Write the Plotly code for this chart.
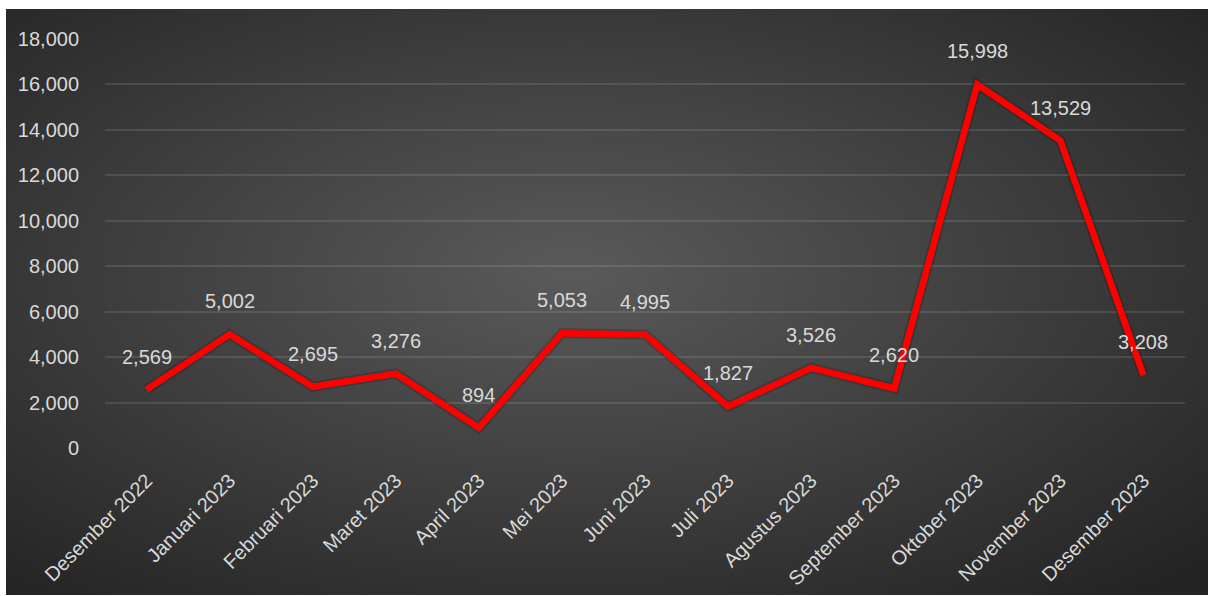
import base64
import plotly.graph_objects as go

# ---- data ----
months = ["Desember 2022", "Januari 2023", "Februari 2023", "Maret 2023", "April 2023",
          "Mei 2023", "Juni 2023", "Juli 2023", "Agustus 2023", "September 2023",
          "Oktober 2023", "November 2023", "Desember 2023"]
values = [2569, 5002, 2695, 3276, 894, 5053, 4995, 1827, 3526, 2620, 15998, 13529, 3208]
y_ticks = [0, 2000, 4000, 6000, 8000, 10000, 12000, 14000, 16000, 18000]

# ---- layout constants ----
W, H = 1208, 596
L, R, T, B = 105, 23, 39, 148
PW, PH = W - L - R, H - T - B
FONT = "Liberation Sans Narrow, Arial Narrow, Liberation Sans, Arial, sans-serif"
FS = 20
TXT = "#d9d9d9"

# background radial gradient as an SVG image
svg = ('<svg xmlns="http://www.w3.org/2000/svg" width="1202" height="586" viewBox="0 0 1202 586" preserveAspectRatio="none">'
       '<defs><radialGradient id="g" cx="0.47" cy="0.45" r="0.72">'
       '<stop offset="0" stop-color="#5a5a5a"/><stop offset="1" stop-color="#242424"/>'
       '</radialGradient></defs><rect width="1202" height="586" fill="url(#g)"/></svg>')
src = "data:image/svg+xml;base64," + base64.b64encode(svg.encode()).decode()
bx0, bx1, by0, by1 = 6, 1208, 9, 595

fig = go.Figure()
fig.add_trace(go.Scatter(x=months, y=values, mode="lines",
                         line=dict(color="rgba(0,0,0,0.18)", width=10),
                         hoverinfo="skip", showlegend=False))
fig.add_trace(go.Scatter(x=months, y=values, mode="lines",
                         line=dict(color="#ff0000", width=6.5),
                         showlegend=False))

for m, v in zip(months, values):
    fig.add_annotation(x=m, y=v, text=f"{v:,}", showarrow=False, yshift=33,
                       font=dict(family=FONT, size=FS, color=TXT))

fig.add_layout_image(dict(source=src, xref="paper", yref="paper",
                          x=(bx0 - L) / PW, y=(H - B - by0) / PH,
                          sizex=(bx1 - bx0) / PW, sizey=(by1 - by0) / PH,
                          sizing="stretch", layer="below", xanchor="left", yanchor="top"))

fig.update_layout(
    width=W, height=H,
    margin=dict(l=L, r=R, t=T, b=B, pad=0, autoexpand=False),
    paper_bgcolor="white", plot_bgcolor="rgba(0,0,0,0)",
    font=dict(family=FONT, size=FS, color=TXT),
    xaxis=dict(type="category", range=[-0.5, len(months) - 0.5], tickangle=-45,
               automargin=False,
               showgrid=False, zeroline=False, showline=False,
               ticks="outside", ticklen=12, tickcolor="rgba(0,0,0,0)",
               tickfont=dict(family=FONT, size=FS, color=TXT)),
    yaxis=dict(range=[0, 18000], tickvals=y_ticks, tickformat=",",
               automargin=False,
               showgrid=True, gridcolor="rgba(255,255,255,0.11)", gridwidth=2,
               zeroline=False, showline=False,
               ticks="outside", ticklen=21, tickcolor="rgba(0,0,0,0)",
               tickfont=dict(family=FONT, size=FS, color=TXT)),
)

fig.write_html("out.html", config={"displayModeBar": False},
               post_script="document.body.style.margin='0';")
